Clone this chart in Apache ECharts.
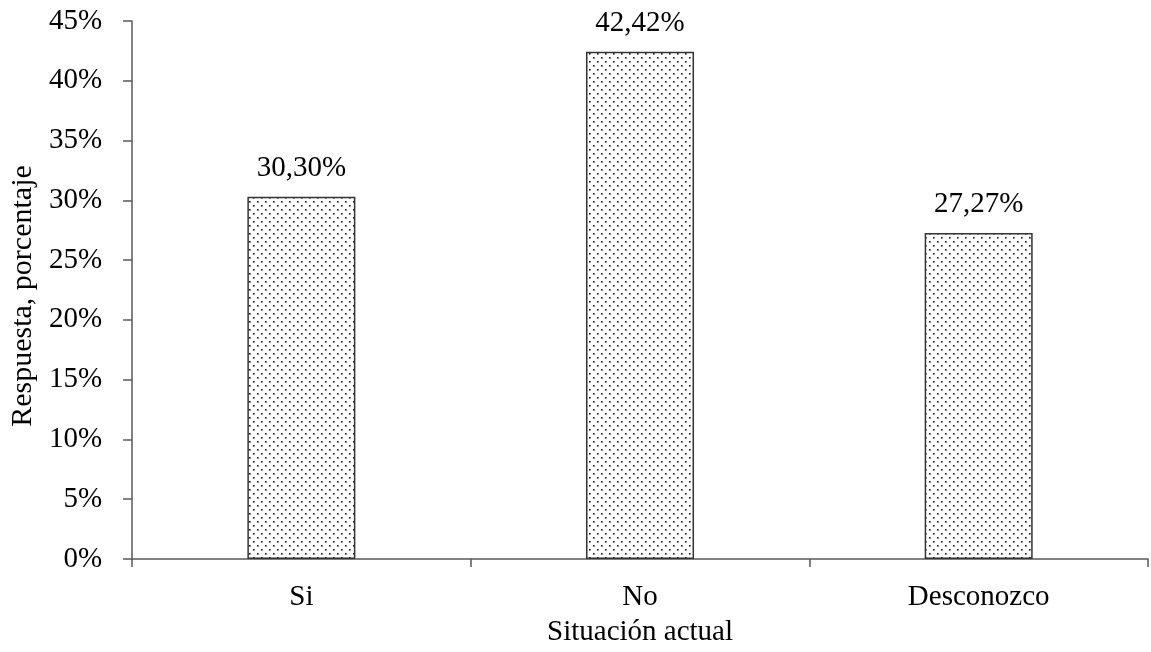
<!DOCTYPE html>
<html>
<head>
<meta charset="utf-8">
<script src="https://cdn.jsdelivr.net/npm/echarts@6/dist/echarts.min.js"></script>
<style>
html,body{margin:0;padding:0;background:#fff;}
#chart{width:1151px;height:652px;}
</style>
</head>
<body>
<div id="chart"></div>
<script>
const categories = ['Si', 'No', 'Desconozco'];
const values = [30.30, 42.42, 27.27];
const yTicks = [0, 5, 10, 15, 20, 25, 30, 35, 40, 45];
const xAxisTitle = 'Situación actual';
const yAxisTitle = 'Respuesta, porcentaje';

function makePattern() {
  const c = document.createElement('canvas');
  c.width = 8; c.height = 8;
  const ctx = c.getContext('2d');
  ctx.fillStyle = '#ffffff';
  ctx.fillRect(0, 0, 8, 8);
  ctx.fillStyle = '#1a1a1a';
  ctx.fillRect(1, 1, 1.6, 1.6);
  ctx.fillRect(5, 5, 1.6, 1.6);
  return c;
}

const font = '"Liberation Serif", "Times New Roman", serif';
const chart = echarts.init(document.getElementById('chart'), null, {renderer: 'canvas'});
chart.setOption({
  animation: false,
  backgroundColor: '#ffffff',
  textStyle: {fontFamily: font, color: '#000'},
  grid: {left: 128, right: 3, top: 21, bottom: 91, containLabel: false},
  xAxis: {
    type: 'category',
    data: categories,
    name: xAxisTitle,
    nameLocation: 'middle',
    nameGap: 59,
    nameTextStyle: {fontFamily: font, fontSize: 29, color: '#000'},
    axisLine: {lineStyle: {color: '#595959', width: 1.5}},
    axisTick: {show: true, length: 8, lineStyle: {color: '#595959', width: 1.5}},
    axisLabel: {fontFamily: font, fontSize: 29, color: '#000', margin: 24}
  },
  yAxis: {
    type: 'value',
    min: yTicks[0],
    max: yTicks[yTicks.length - 1],
    interval: 5,
    name: yAxisTitle,
    nameLocation: 'middle',
    nameGap: 90,
    nameRotate: 90,
    nameTextStyle: {fontFamily: font, fontSize: 30, color: '#000', padding: [0, 12, 0, 0]},
    axisLine: {show: true, lineStyle: {color: '#595959', width: 1.5}},
    axisTick: {show: true, length: 9, lineStyle: {color: '#595959', width: 1.5}},
    splitLine: {show: false},
    axisLabel: {fontFamily: font, fontSize: 29, color: '#000', margin: 30, formatter: '{value}%'}
  },
  series: [{
    type: 'bar',
    data: values,
    barWidth: 108,
    itemStyle: {
      color: {image: makePattern(), repeat: 'repeat'},
      borderColor: '#333333',
      borderWidth: 1.5
    },
    label: {
      show: true,
      position: 'top',
      distance: 14,
      fontFamily: font,
      fontSize: 29,
      color: '#000',
      formatter: p => p.value.toFixed(2).replace('.', ',') + '%'
    }
  }]
});
</script>
</body>
</html>
